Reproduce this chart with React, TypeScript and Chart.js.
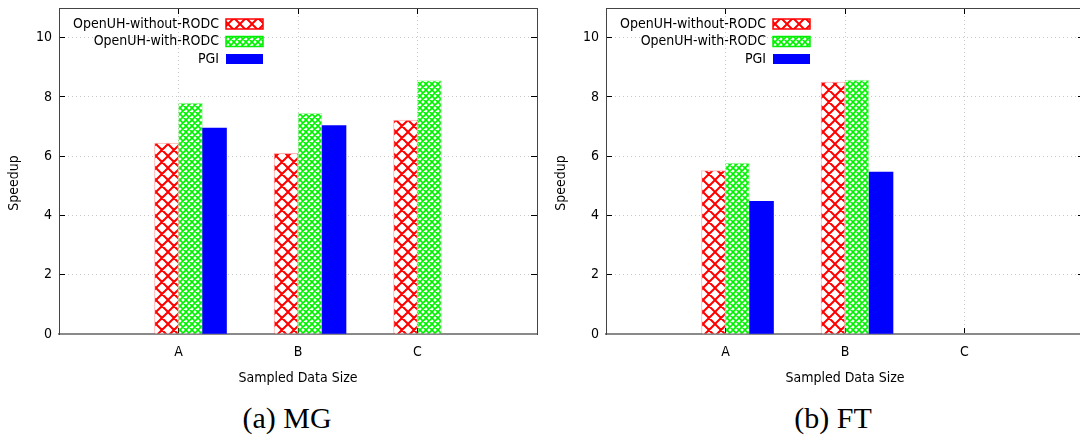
import React, { useEffect, useRef } from 'react';
import { Chart, registerables } from 'chart.js';

Chart.register(...registerables);

const categories = ['A', 'B', 'C'];
const seriesNames = ['OpenUH-without-RODC', 'OpenUH-with-RODC', 'PGI'];
const mgWithout = [6.44, 6.1, 7.22];
const mgWith = [7.79, 7.45, 8.55];
const mgPgi = [6.95, 7.03, null];
const ftWithout = [5.51, 8.5, null];
const ftWith = [5.77, 8.57, null];
const ftPgi = [4.48, 5.46, null];
const yTicks = [0, 2, 4, 6, 8, 10];
const yMax = 11;
const xMin = -1;
const xMax = 3;
const captions = ['(a) MG', '(b) FT'];
const axisTitles = { x: 'Sampled Data Size', y: 'Speedup' };

const FAMILY = '"DejaVu Sans Condensed", "DejaVu Sans", sans-serif';
const font = { family: FAMILY, size: 14 };

function makePattern(ctx: CanvasRenderingContext2D, kind: 'red' | 'green') {
  const c = document.createElement('canvas');
  const s = kind === 'red' ? 12 : 6;
  c.width = s;
  c.height = s;
  const g = c.getContext('2d')!;
  g.fillStyle = '#ffffff';
  g.fillRect(0, 0, s, s);
  g.strokeStyle = kind === 'red' ? '#ff0000' : '#00f000';
  g.lineWidth = kind === 'red' ? 2 : 1.6;
  g.beginPath();
  for (const o of [-s, 0, s]) {
    g.moveTo(-1 + o, -1);
    g.lineTo(s + 1 + o, s + 1);
    g.moveTo(s + 1 + o, -1);
    g.lineTo(-1 + o, s + 1);
  }
  g.stroke();
  return ctx.createPattern(c, 'repeat')!;
}

// place the legend block inside the plot area like the reference (right-aligned text, swatch on the right)
const legendShift = {
  id: 'legendShift',
  afterLayout(chart: any) {
    const l = chart.legend;
    if (!l) return;
    const pad = l.options.labels.padding;
    const w = l.width;
    const h = l.height;
    l.left = chart.chartArea.left + 204 - w + pad;
    l.right = l.left + w;
    l.top = chart.chartArea.top + 5.5;
    l.bottom = l.top + h;
  },
};

const zeroPad = (s: any) => {
  s.paddingTop = 0;
  s.paddingBottom = 0;
  s.paddingLeft = 0;
  s.paddingRight = 0;
};

function buildChart(canvas: HTMLCanvasElement, a: (number | null)[], b: (number | null)[], c: (number | null)[]) {
  const ctx = canvas.getContext('2d')!;
  const red = makePattern(ctx, 'red');
  const green = makePattern(ctx, 'green');
  const pts = (vals: (number | null)[]) => categories.map((_, i) => ({ x: i, y: vals[i] }));
  const setTicks = (s: any) => {
    s.ticks = yTicks.map((v) => ({ value: v }));
  };
  const gridCommon = {
    color: '#c8c8c8',
    lineWidth: 1,
    tickLength: -6,
    tickColor: '#000000',
    tickWidth: 1,
    tickBorderDash: [],
  };
  return new Chart(ctx, {
    type: 'bar',
    data: {
      datasets: [
        { label: '', data: pts([null, null, null]), backgroundColor: 'rgba(0,0,0,0)' },
        {
          label: seriesNames[0],
          data: pts(a),
          backgroundColor: red,
          borderColor: 'rgba(255,0,0,0.3)',
          borderWidth: 1,
        },
        {
          label: seriesNames[1],
          data: pts(b),
          backgroundColor: green,
          borderColor: 'rgba(0,230,0,0.3)',
          borderWidth: 1,
        },
        { label: seriesNames[2], data: pts(c), backgroundColor: '#0000ff', borderWidth: 0 },
      ],
    },
    options: {
      animation: false,
      responsive: false,
      devicePixelRatio: 1,
      layout: { padding: 0 },
      datasets: { bar: { barThickness: 24, grouped: true } },
      scales: {
        x: {
          type: 'linear',
          position: 'bottom',
          min: xMin,
          max: xMax,
          offset: false,
          afterFit: (s: any) => {
            s.height = 56;
            zeroPad(s);
          },
          ticks: {
            stepSize: 1,
            autoSkip: false,
            maxRotation: 0,
            padding: 16,
            font,
            color: '#000000',
            callback: (v: any) => categories[v] ?? '',
          },
          grid: { ...gridCommon, offset: false },
          border: { color: '#8a8a8a', width: 2, dash: [1, 3] },
          title: { display: true, text: axisTitles.x, font, color: '#000000', padding: { top: 0, bottom: 3 } },
        },
        x2: {
          type: 'linear',
          position: 'top',
          min: xMin,
          max: xMax,
          offset: false,
          afterFit: (s: any) => {
            s.height = 8;
            zeroPad(s);
          },
          ticks: { display: false, stepSize: 1 },
          grid: { ...gridCommon, offset: false, drawOnChartArea: false },
          border: { color: '#444444', width: 1 },
        },
        y: {
          type: 'linear',
          position: 'left',
          min: 0,
          max: yMax,
          afterFit: (s: any) => {
            s.width = 59;
            zeroPad(s);
          },
          afterBuildTicks: setTicks,
          ticks: { padding: 13, font, color: '#000000' },
          grid: gridCommon,
          border: { color: '#444444', width: 1, dash: [1, 3] },
          title: {
            display: true,
            text: axisTitles.y + '      ',
            font,
            color: '#000000',
            padding: { top: 6, bottom: 0 },
          },
        },
        y2: {
          type: 'linear',
          position: 'right',
          min: 0,
          max: yMax,
          afterFit: (s: any) => {
            s.width = 3;
            zeroPad(s);
          },
          afterBuildTicks: setTicks,
          ticks: { display: false },
          grid: { ...gridCommon, drawOnChartArea: false },
          border: { color: '#444444', width: 1 },
        },
      },
      plugins: {
        tooltip: { enabled: false },
        legend: {
          position: 'chartArea',
          align: 'start',
          rtl: true,
          labels: {
            boxWidth: 37,
            boxHeight: 10,
            padding: 3.5,
            font,
            color: '#000000',
            filter: (item: any) => item.datasetIndex !== 0,
            generateLabels: (chart: any) => {
              const items = (Chart as any).defaults.plugins.legend.labels.generateLabels(chart);
              return items.map((it: any) => {
                if (it.datasetIndex === 1) return { ...it, strokeStyle: '#ff0000', lineWidth: 1.5 };
                if (it.datasetIndex === 2) return { ...it, strokeStyle: '#00ee00', lineWidth: 1.5 };
                if (it.datasetIndex === 3) return { ...it, strokeStyle: '#0000ff', lineWidth: 0 };
                return it;
              });
            },
          },
        },
      },
    } as any,
    plugins: [legendShift],
  });
}

function Panel({ left, a, b, c }: { left: number; a: (number | null)[]; b: (number | null)[]; c: (number | null)[] }) {
  const ref = useRef<HTMLCanvasElement>(null);
  useEffect(() => {
    const chart = buildChart(ref.current!, a, b, c);
    return () => chart.destroy();
  }, []);
  return (
    <canvas
      ref={ref}
      width={540}
      height={390}
      style={{ position: 'absolute', left, top: 0, width: 540, height: 390 }}
    />
  );
}

const captionStyle: React.CSSProperties = {
  position: 'absolute',
  top: 399,
  width: 540,
  textAlign: 'center',
  fontFamily: '"Liberation Serif", "Times New Roman", serif',
  fontSize: 30,
  lineHeight: '38px',
  color: '#000',
};

export default function App() {
  return (
    <div
      style={{
        position: 'absolute',
        left: 0,
        top: 0,
        width: 1080,
        height: 435,
        overflow: 'hidden',
        background: '#ffffff',
      }}
    >
      <Panel left={0} a={mgWithout} b={mgWith} c={mgPgi} />
      <Panel left={547} a={ftWithout} b={ftWith} c={ftPgi} />
      <div style={{ ...captionStyle, left: 17 }}>{captions[0]}</div>
      <div style={{ ...captionStyle, left: 563 }}>{captions[1]}</div>
    </div>
  );
}
